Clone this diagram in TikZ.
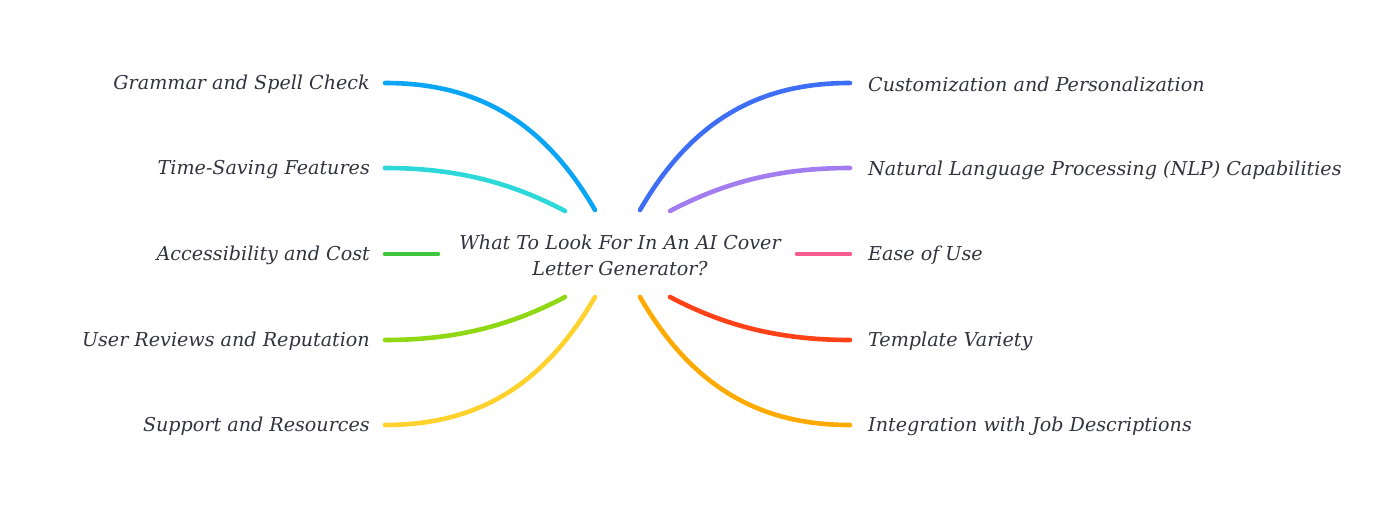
\documentclass[tikz,border=0pt]{standalone}
\usepackage{fontspec}
\setmainfont{DejaVu Serif}
\definecolor{txt}{HTML}{33333F}
\definecolor{cA}{HTML}{0AA5F5}
\definecolor{cB}{HTML}{2DD8D8}
\definecolor{cC}{HTML}{3EC63E}
\definecolor{cD}{HTML}{8FD813}
\definecolor{cE}{HTML}{FFD22E}
\definecolor{cF}{HTML}{3F6EF6}
\definecolor{cG}{HTML}{A27DF0}
\definecolor{cH}{HTML}{F75B8E}
\definecolor{cI}{HTML}{FF4118}
\definecolor{cJ}{HTML}{FFAA00}
\tikzset{
  lbl/.style={font=\fontsize{19.2}{26}\selectfont\itshape, text=txt, inner sep=0pt},
  lft/.style={lbl, anchor=east},
  rgt/.style={lbl, anchor=west},
  branch/.style={line width=4.6bp, line cap=round},
}
\begin{document}
\begin{tikzpicture}[x=1bp,y=-1bp]
\useasboundingbox (0,0) rectangle (1392,526);
% center
\node[lbl, align=center, anchor=center] (c) at (620,255) {What To Look For In An AI Cover\\Letter Generator?};
% labels
\node[lft] (l1) at (370,84) {Grammar and Spell Check};
\node[lft] (l2) at (370,170) {Time-Saving Features};
\node[lft] (l3) at (370,255) {Accessibility and Cost};
\node[lft] (l4) at (370,341) {User Reviews and Reputation};
\node[lft] (l5) at (370,426) {Support and Resources};
\node[rgt] (r1) at (868,84) {Customization and Personalization};
\node[rgt] (r2) at (868,170) {Natural Language Processing (NLP) Capabilities};
\node[rgt] (r3) at (868,255) {Ease of Use};
\node[rgt] (r4) at (868,341) {Template Variety};
\node[rgt] (r5) at (868,426) {Integration with Job Descriptions};
% anchor coordinates
\coordinate (a1) at (595,210); \coordinate (b1) at (385,83);
\coordinate (a2) at (565,211); \coordinate (b2) at (385,168);
\coordinate (a3) at (438,254); \coordinate (b3) at (385,254);
\coordinate (a4) at (565,297); \coordinate (b4) at (385,340);
\coordinate (a5) at (595,297); \coordinate (b5) at (385,425);
\coordinate (p1) at (640,210); \coordinate (q1) at (850,83);
\coordinate (p2) at (670,211); \coordinate (q2) at (850,168);
\coordinate (p3) at (797,254); \coordinate (q3) at (850,254);
\coordinate (p4) at (670,297); \coordinate (q4) at (850,340);
\coordinate (p5) at (640,297); \coordinate (q5) at (850,425);
% branches
\draw[branch, cA] (a1) .. controls (540,115) and (470,83) .. (b1);
\draw[branch, cB] (a2) .. controls (510,182) and (455,168) .. (b2);
\draw[branch, cC] (a3) -- (b3);
\draw[branch, cD] (a4) .. controls (510,326) and (455,340) .. (b4);
\draw[branch, cE] (a5) .. controls (540,392) and (470,425) .. (b5);
\draw[branch, cF] (p1) .. controls (695,115) and (765,83) .. (q1);
\draw[branch, cG] (p2) .. controls (725,182) and (780,168) .. (q2);
\draw[branch, cH] (p3) -- (q3);
\draw[branch, cI] (p4) .. controls (725,326) and (780,340) .. (q4);
\draw[branch, cJ] (p5) .. controls (695,392) and (765,425) .. (q5);
\end{tikzpicture}
\end{document}
